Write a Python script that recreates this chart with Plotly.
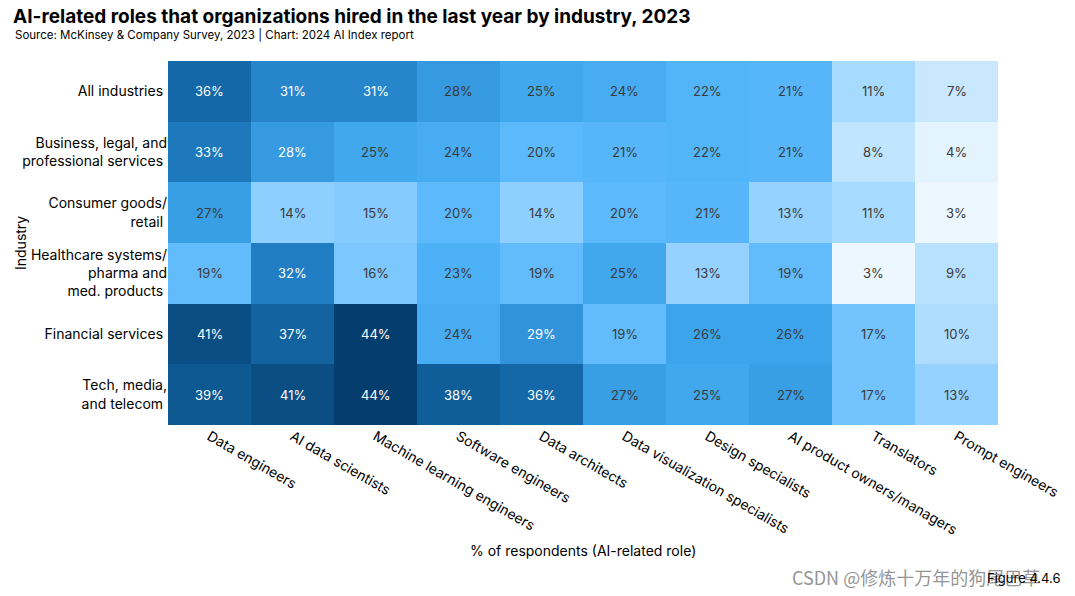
import plotly.graph_objects as go

industries = [
    "All industries",
    "Business, legal, and<br>professional services",
    "Consumer goods/<br>retail",
    "Healthcare systems/<br>pharma and<br>med. products",
    "Financial services",
    "Tech, media,<br>and telecom",
]
roles = [
    "Data engineers",
    "AI data scientists",
    "Machine learning engineers",
    "Software engineers",
    "Data architects",
    "Data visualization specialists",
    "Design specialists",
    "AI product owners/managers",
    "Translators",
    "Prompt engineers",
]
all_industries = [36, 31, 31, 28, 25, 24, 22, 21, 11, 7]
business = [33, 28, 25, 24, 20, 21, 22, 21, 8, 4]
consumer = [27, 14, 15, 20, 14, 20, 21, 13, 11, 3]
healthcare = [19, 32, 16, 23, 19, 25, 13, 19, 3, 9]
financial = [41, 37, 44, 24, 29, 19, 26, 26, 17, 10]
tech = [39, 41, 44, 38, 36, 27, 25, 27, 17, 13]

z = [all_industries, business, consumer, healthcare, financial, tech]

colorscale = [
    [0.00, "rgb(236,247,255)"],
    [0.10, "rgb(200,232,255)"],
    [0.20, "rgb(165,217,255)"],
    [0.30, "rgb(130,202,255)"],
    [0.40, "rgb(95,186,252)"],
    [0.48, "rgb(78,178,248)"],
    [0.55, "rgb(62,166,236)"],
    [0.62, "rgb(52,152,222)"],
    [0.70, "rgb(35,128,198)"],
    [0.80, "rgb(20,105,168)"],
    [0.90, "rgb(12,84,140)"],
    [1.00, "rgb(4,62,110)"],
]

# page body has an 8px offset; plot area on screen: x 168..998, y 61..425
W, H = 1075, 596
L, T, R, B = 160, 53, 85, 179
PW, PH = W - L - R, H - T - B
OFF = 8


def px(x):
    return (x - OFF - L) / PW


def py(y):
    return 1 - (y - OFF - T) / PH


fig = go.Figure(
    go.Heatmap(
        z=z,
        x=roles,
        y=industries,
        zmin=3,
        zmax=44,
        colorscale=colorscale,
        showscale=False,
        hoverinfo="skip",
    )
)

dark_exceptions = {(0, 3)}
for i, row in enumerate(z):
    for j, v in enumerate(row):
        light = v >= 28 and (i, j) not in dark_exceptions
        fig.add_annotation(
            x=roles[j], y=industries[i], text=f"{v}%", showarrow=False,
            font=dict(size=13, color="white" if light else "#3a3a3a"),
        )

fig.update_xaxes(
    tickangle=30, tickfont=dict(size=14, color="black"), showgrid=False,
    zeroline=False, ticks="", side="bottom",
)
fig.update_yaxes(
    autorange="reversed", tickfont=dict(size=14, color="black"), showgrid=False,
    zeroline=False, ticks="", ticksuffix=" ",
)

fig.add_annotation(
    text="Industry", xref="paper", yref="paper", x=px(20), y=0.5,
    textangle=-90, showarrow=False, font=dict(size=14, color="black"),
    xanchor="center", yanchor="middle",
)
fig.add_annotation(
    text="% of respondents (AI-related role)", xref="paper", yref="paper",
    x=px(583), y=py(550), showarrow=False, font=dict(size=14, color="black"),
    xanchor="center", yanchor="middle",
)
fig.add_annotation(
    text="Source: McKinsey & Company Survey, 2023 | Chart: 2024 AI Index report",
    xref="paper", yref="paper", x=px(13), y=py(35),
    xanchor="left", yanchor="middle", showarrow=False,
    font=dict(size=11.5, color="black"),
)
fig.add_annotation(
    text="CSDN @修炼十万年的狗尾巴草",
    xref="paper", yref="paper", x=px(1042), y=py(577),
    xanchor="right", yanchor="middle", showarrow=False,
    font=dict(size=18, color="rgba(120,120,120,0.8)", family="Noto Sans CJK SC"),
)
fig.add_annotation(
    text="Figure 4.4.6",
    xref="paper", yref="paper", x=px(1063), y=py(578),
    xanchor="right", yanchor="middle", showarrow=False,
    font=dict(size=13, color="black"),
)

fig.update_layout(
    width=W, height=H,
    margin=dict(l=L, r=R, t=T, b=B),
    paper_bgcolor="white", plot_bgcolor="white",
    font=dict(family="Inter, Lato, sans-serif"),
    title=dict(
        text="<b>AI-related roles that organizations hired in the last year by industry, 2023</b>",
        x=(13 - OFF) / W, xanchor="left", xref="container",
        y=1 - (16 - OFF) / H, yanchor="middle", yref="container",
        font=dict(size=19, color="black"),
    ),
)

fig.write_html("out.html")
